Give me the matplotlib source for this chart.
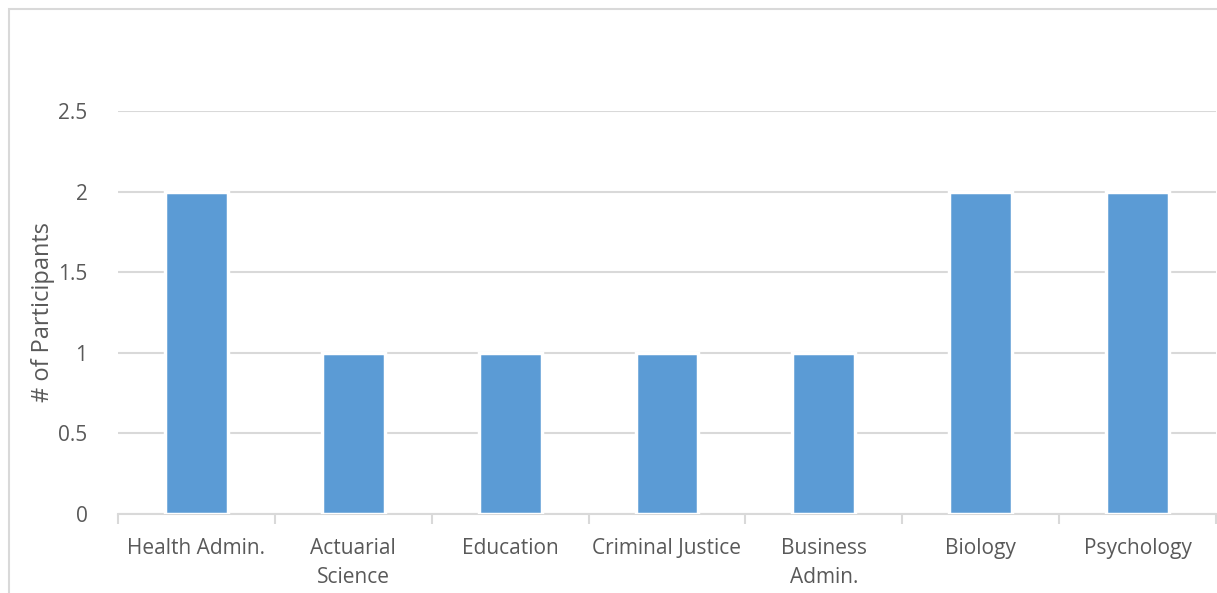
import matplotlib
matplotlib.use("Agg")
import matplotlib.pyplot as plt
from matplotlib.patches import Rectangle

categories = ["Health Admin.", "Actuarial\nScience", "Education", "Criminal Justice",
              "Business\nAdmin.", "Biology", "Psychology"]
participants = [2, 1, 1, 1, 1, 2, 2]
y_ticks = [0, 0.5, 1, 1.5, 2, 2.5]
y_tick_labels = ["0", "0.5", "1", "1.5", "2", "2.5"]

plt.rcParams["font.family"] = ["Open Sans", "DejaVu Sans"]
text_color = "#595959"
grid_color = "#D9D9D9"

W, H = 1217, 593
fig = plt.figure(figsize=(W / 100, H / 100), dpi=100)
fig.patch.set_facecolor("white")

# chart frame (only the top/left edges are inside the crop)
fig.patches.append(Rectangle((8.5 / W, -0.1), 1.2, (H - 8.5) / H + 0.1,
                             transform=fig.transFigure, fill=False,
                             edgecolor=grid_color, linewidth=1.5))

ax = fig.add_axes([118 / W, (H - 514) / H, (1216 - 118) / W, (514 - 111) / H])
x = range(len(categories))
ax.bar(x, participants, width=0.40, color="#5B9BD5", edgecolor="white",
       linewidth=2.5, zorder=3)

ax.set_xlim(-0.5, len(categories) - 0.5)
ax.set_ylim(0, 2.5)
ax.set_yticks(y_ticks)
ax.set_yticklabels(y_tick_labels)
ax.set_xticks(list(x))
ax.set_xticklabels(categories, linespacing=1.55)

ax.yaxis.grid(True, color=grid_color, linewidth=1.5, zorder=0)
ax.set_axisbelow(True)
for side in ["top", "right", "left"]:
    ax.spines[side].set_visible(False)
ax.spines["bottom"].set_color(grid_color)
ax.spines["bottom"].set_linewidth(1.5)

ax.tick_params(axis="y", length=0, pad=22, labelsize=15, labelcolor=text_color)
ax.tick_params(axis="x", which="major", length=0, pad=17, labelsize=15,
               labelcolor=text_color)
# boundary tick marks between categories
ax.set_xticks([i - 0.5 for i in range(len(categories) + 1)], minor=True)
ax.tick_params(axis="x", which="minor", length=7, width=1.5, color=grid_color)

fig.text(43 / W, (H - 312) / H, "# of Participants", rotation=90, fontsize=17,
         color=text_color, ha="center", va="center")

fig.savefig("out.png", dpi=100)
